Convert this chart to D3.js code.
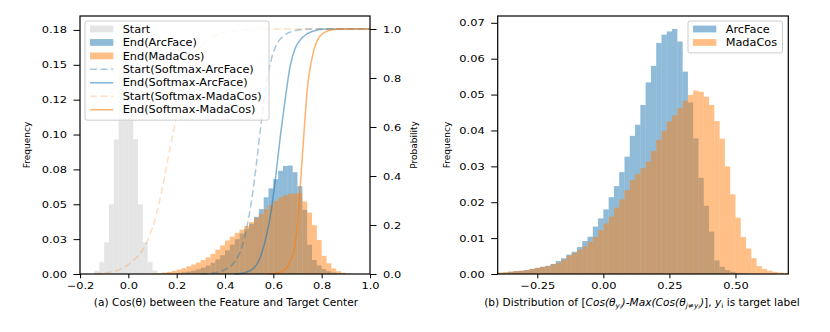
<!DOCTYPE html>
<html>
<head>
<meta charset="utf-8">
<script src="https://cdn.jsdelivr.net/npm/d3@7"></script>
<style>
  body { margin: 0; background: #fff; }
  svg text { font-family: "DejaVu Sans", sans-serif; fill: #000; }
</style>
</head>
<body>
<svg id="chart" width="830" height="332"></svg>
<script>
// ---- data, panel (a) ----
var binW = 0.02;
var startFirstEdge = -0.14;
var startFreq = [0.0024, 0.0085, 0.0227, 0.050, 0.0966, 0.143, 0.176, 0.143, 0.0966, 0.050, 0.0227, 0.0085, 0.0024];
var endFirstEdge = 0.10;
var endArcFreq = [0, 0.0001, 0.0002, 0.0003, 0.0005, 0.0008, 0.0012, 0.0017, 0.0024, 0.0033,
    0.0045, 0.0060, 0.0080, 0.0105, 0.0135, 0.0170, 0.0210, 0.0250, 0.0290, 0.0325,
    0.0360, 0.0410, 0.0465, 0.0550, 0.0614, 0.0680, 0.0740, 0.0775, 0.0778, 0.0730,
    0.0630, 0.0460, 0.0210, 0.0100, 0.0062, 0.0035, 0.0020, 0.0010, 0.0005, 0.0002,
    0.0001];
var endMadaFreq = [0.0003, 0.0006, 0.0010, 0.0015, 0.0022, 0.0032, 0.0042, 0.0055, 0.0068, 0.0082,
    0.0100, 0.0120, 0.0145, 0.0175, 0.0205, 0.0240, 0.0268, 0.0295, 0.0318, 0.0345,
    0.0372, 0.0400, 0.0430, 0.0465, 0.0495, 0.0525, 0.0548, 0.0565, 0.0575, 0.0578,
    0.0580, 0.0520, 0.0440, 0.0350, 0.0244, 0.0130, 0.0077, 0.0040, 0.0020, 0.0009,
    0.0003];

// softmax probability curves [cos, prob]
var startArcCurve = [[0.30, 0], [0.36, 0.005], [0.40, 0.018], [0.44, 0.05], [0.47, 0.11], [0.49, 0.19],
    [0.51, 0.30], [0.53, 0.45], [0.55, 0.62], [0.57, 0.77], [0.59, 0.87], [0.61, 0.93], [0.64, 0.97],
    [0.68, 0.99], [0.75, 1.0], [1.0, 1.0]];
var endArcCurve = [[0.44, 0], [0.48, 0.005], [0.52, 0.025], [0.55, 0.08], [0.57, 0.15], [0.59, 0.25],
    [0.61, 0.40], [0.63, 0.57], [0.65, 0.72], [0.67, 0.85], [0.69, 0.92], [0.72, 0.965], [0.76, 0.99],
    [0.82, 1.0], [1.0, 1.0]];
var startMadaCurve = [[-0.14, 0], [-0.10, 0.004], [-0.06, 0.01], [-0.02, 0.025], [0.02, 0.055], [0.06, 0.10],
    [0.10, 0.19], [0.13, 0.30], [0.17, 0.50], [0.215, 0.71], [0.25, 0.83], [0.28, 0.90], [0.32, 0.95],
    [0.36, 0.975], [0.42, 0.99], [0.50, 0.997], [0.60, 1.0], [1.0, 1.0]];
var endMadaCurve = [[0.58, 0], [0.62, 0.004], [0.65, 0.02], [0.67, 0.05], [0.69, 0.12], [0.70, 0.20],
    [0.71, 0.34], [0.72, 0.48], [0.73, 0.62], [0.74, 0.75], [0.76, 0.88], [0.78, 0.95], [0.81, 0.985],
    [0.85, 0.998], [0.90, 1.0], [1.0, 1.0]];

var xTicksA = [-0.2, 0, 0.2, 0.4, 0.6, 0.8, 1.0];
var xTickLabelsA = ["\u22120.2", "0.0", "0.2", "0.4", "0.6", "0.8", "1.0"];
var yTicksA = [0, 0.025, 0.05, 0.075, 0.1, 0.125, 0.15, 0.175];
var yTickLabelsA = ["0.00", "0.03", "0.05", "0.08", "0.10", "0.12", "0.15", "0.18"];
var pTicks = [0, 0.2, 0.4, 0.6, 0.8, 1.0];
var pTickLabels = ["0.0", "0.2", "0.4", "0.6", "0.8", "1.0"];

// ---- data, panel (b) ----
var diffFirstEdge = -0.40;
var diffArcFreq = [0.0003, 0.0004, 0.0006, 0.0008, 0.0009, 0.0011, 0.0014, 0.0017, 0.0020, 0.0023,
    0.0028, 0.0036, 0.0044, 0.0054, 0.0062, 0.0075, 0.0092, 0.0104, 0.0132, 0.0155,
    0.0180, 0.0214, 0.0245, 0.0284, 0.0327, 0.0385, 0.0416, 0.0471, 0.0534, 0.0580,
    0.0644, 0.0667, 0.0676, 0.0683, 0.0648, 0.0564, 0.0478, 0.0378, 0.0268, 0.0190,
    0.0118, 0.0038, 0.0020, 0.0011, 0.0006, 0.0003, 0.0002, 0.0001, 0.0001, 0,
    0, 0, 0, 0, 0];
var diffMadaFreq = [0.0004, 0.0005, 0.0007, 0.0008, 0.0009, 0.0011, 0.0014, 0.0017, 0.0020, 0.0022,
    0.0027, 0.0031, 0.0040, 0.0051, 0.0058, 0.0067, 0.0077, 0.0090, 0.0103, 0.0122,
    0.0141, 0.0160, 0.0185, 0.0208, 0.0234, 0.0262, 0.0279, 0.0295, 0.0313, 0.0343,
    0.0374, 0.0399, 0.0425, 0.0442, 0.0462, 0.0483, 0.0499, 0.0511, 0.0508, 0.0494,
    0.0471, 0.0426, 0.0377, 0.0300, 0.0222, 0.0157, 0.0103, 0.0071, 0.0044, 0.0022,
    0.0014, 0.0009, 0.0006, 0.0004, 0.0003];
var xTicksB = [-0.25, 0, 0.25, 0.5];
var xTickLabelsB = ["\u22120.25", "0.00", "0.25", "0.50"];
var yTicksB = [0, 0.01, 0.02, 0.03, 0.04, 0.05, 0.06, 0.07];
var yTickLabelsB = ["0.00", "0.01", "0.02", "0.03", "0.04", "0.05", "0.06", "0.07"];

var blue = "#1f77b4", orange = "#ff7f0e";

var svg = d3.select("#chart");
svg.append("rect").attr("width", 830).attr("height", 332).attr("fill", "#fff");

// stretch text horizontally a bit, the reference picture is wider than tall
function widen(sel, k) {
    sel.each(function() {
        var len = this.getComputedTextLength();
        d3.select(this).attr("textLength", len * k).attr("lengthAdjust", "spacingAndGlyphs");
    });
}

var xA = d3.scaleLinear().domain([-0.2, 1.0]).range([80, 370]);
var yA = d3.scaleLinear().domain([0, 0.185]).range([274, 16]);
var yP = d3.scaleLinear().domain([0, 1.053]).range([274, 16]);
var xB = d3.scaleLinear().domain([-0.40, 0.70]).range([497.7, 788.3]);
var yB = d3.scaleLinear().domain([0, 0.0719]).range([274, 16]);

function hist(x, y, firstEdge, freq, color, opacity) {
    svg.append("g").selectAll("rect").data(freq).join("rect")
        .attr("x", function(d, i) { return x(firstEdge + i * binW); })
        .attr("width", function(d, i) { return x(firstEdge + (i + 1) * binW) - x(firstEdge + i * binW); })
        .attr("y", function(d) { return y(d); })
        .attr("height", function(d) { return y(0) - y(d); })
        .attr("fill", color)
        .attr("fill-opacity", opacity);
}

// panel (a) histograms
hist(xA, yA, startFirstEdge, startFreq, "#d3d3d3", 0.6);
hist(xA, yA, endFirstEdge, endArcFreq, blue, 0.5);
hist(xA, yA, endFirstEdge, endMadaFreq, orange, 0.5);

// panel (a) probability curves
var probLine = d3.line()
    .x(function(d) { return xA(d[0]); })
    .y(function(d) { return yP(d[1]); })
    .curve(d3.curveMonotoneX);

var curves = [
    {data: startArcCurve, color: blue, op: 0.4, dash: "7,3.5"},
    {data: endArcCurve, color: blue, op: 0.55, dash: null},
    {data: startMadaCurve, color: orange, op: 0.25, dash: "7,3.5"},
    {data: endMadaCurve, color: orange, op: 0.6, dash: null}
];
curves.forEach(function(c) {
    svg.append("path")
        .attr("d", probLine(c.data))
        .attr("fill", "none")
        .attr("stroke", c.color)
        .attr("stroke-opacity", c.op)
        .attr("stroke-width", 1.5)
        .attr("stroke-dasharray", c.dash);
});

// panel (b) histograms
hist(xB, yB, diffFirstEdge, diffArcFreq, blue, 0.5);
hist(xB, yB, diffFirstEdge, diffMadaFreq, orange, 0.5);

// axes
function drawAxis(axis, tx, ty, vals, labels, isX) {
    var g = svg.append("g").attr("transform", "translate(" + tx + "," + ty + ")")
        .call(axis.tickValues(vals).tickFormat(function(d, i) { return labels[i]; }));
    g.select(".domain").remove();
    g.selectAll(".tick line").attr("stroke", "#000").attr("stroke-width", 1);
    g.selectAll(".tick text").attr("font-size", 9.5).attr("font-family", "DejaVu Sans").attr("fill", "#000");
    widen(g.selectAll(".tick text"), 1.2);
    return g;
}
drawAxis(d3.axisBottom(xA).tickSize(4.3).tickPadding(4), 0, 274, xTicksA, xTickLabelsA, true);
drawAxis(d3.axisLeft(yA).tickSize(6.5).tickPadding(6.5), 80, 0, yTicksA, yTickLabelsA, false);
drawAxis(d3.axisRight(yP).tickSize(6.5).tickPadding(6.5), 370, 0, pTicks, pTickLabels, false);
drawAxis(d3.axisBottom(xB).tickSize(4.3).tickPadding(4), 0, 274, xTicksB, xTickLabelsB, true);
drawAxis(d3.axisLeft(yB).tickSize(6.5).tickPadding(6.5), 497.7, 0, yTicksB, yTickLabelsB, false);

// frames
svg.append("rect").attr("x", 80).attr("y", 16).attr("width", 290).attr("height", 258)
    .attr("fill", "none").attr("stroke", "#000").attr("stroke-width", 1.2);
svg.append("rect").attr("x", 497.7).attr("y", 16).attr("width", 290.6).attr("height", 258)
    .attr("fill", "none").attr("stroke", "#000").attr("stroke-width", 1.2);

// axis titles
function vLabel(x, y, txt) {
    svg.append("text").attr("transform", "translate(" + x + "," + y + ") rotate(-90)")
        .attr("text-anchor", "middle").attr("font-size", 9).text(txt);
}
vLabel(30, 145, "Frequency");
vLabel(417, 145, "Probability");
vLabel(450, 145, "Frequency");

var xlabA = svg.append("text").attr("x", 226).attr("y", 306).attr("text-anchor", "middle")
    .attr("font-size", 10).text("(a) Cos(\u03b8) between the Feature and Target Center");
widen(xlabA, 1.06);

var xlabB = svg.append("text").attr("x", 642).attr("y", 306).attr("text-anchor", "middle")
    .attr("font-size", 10);
xlabB.append("tspan").text("(b) Distribution of [");
xlabB.append("tspan").attr("font-style", "italic").text("Cos(\u03b8");
xlabB.append("tspan").attr("font-style", "italic").attr("font-size", 7).attr("dy", 2).text("y");
xlabB.append("tspan").attr("font-style", "italic").attr("font-size", 5.5).attr("dy", 1.2).text("i");
xlabB.append("tspan").attr("font-style", "italic").attr("dy", -3.2).text(")-Max(Cos(\u03b8");
xlabB.append("tspan").attr("font-style", "italic").attr("font-size", 7).attr("dy", 2).text("j\u2260y");
xlabB.append("tspan").attr("font-style", "italic").attr("font-size", 5.5).attr("dy", 1.2).text("i");
xlabB.append("tspan").attr("font-style", "italic").attr("dy", -3.2).text(")");
xlabB.append("tspan").text("], ");
xlabB.append("tspan").attr("font-style", "italic").text("y");
xlabB.append("tspan").attr("font-size", 7).attr("dy", 2).text("i");
xlabB.append("tspan").attr("dy", -2).text(" is target label");
widen(xlabB, 1.06);

// legends
function legend(x, y, w, items) {
    var rowH = 13.45;
    var g = svg.append("g").attr("transform", "translate(" + x + "," + y + ")");
    g.append("rect").attr("width", w).attr("height", items.length * rowH + 5)
        .attr("rx", 2).attr("fill", "#fff").attr("fill-opacity", 0.8)
        .attr("stroke", "#cccccc").attr("stroke-width", 1);
    items.forEach(function(it, i) {
        var cy = 8 + i * rowH;
        if (it.type === "patch") {
            g.append("rect").attr("x", 5).attr("y", cy - 3.4).attr("width", 23.3).attr("height", 6.8)
                .attr("fill", it.color).attr("fill-opacity", it.op);
        } else {
            g.append("line").attr("x1", 5).attr("x2", 28.3).attr("y1", cy).attr("y2", cy)
                .attr("stroke", it.color).attr("stroke-opacity", it.op).attr("stroke-width", 1.5)
                .attr("stroke-dasharray", it.dash);
        }
        var t = g.append("text").attr("x", 37.7).attr("y", cy + 3.6).attr("font-size", 10).text(it.label);
        widen(t, 1.13);
    });
}
legend(85, 21, 184, [
    {type: "patch", color: "#d3d3d3", op: 0.6, label: "Start"},
    {type: "patch", color: blue, op: 0.5, label: "End(ArcFace)"},
    {type: "patch", color: orange, op: 0.5, label: "End(MadaCos)"},
    {type: "line", color: blue, op: 0.4, dash: "7,3.5", label: "Start(Softmax-ArcFace)"},
    {type: "line", color: blue, op: 0.55, dash: null, label: "End(Softmax-ArcFace)"},
    {type: "line", color: orange, op: 0.25, dash: "7,3.5", label: "Start(Softmax-MadaCos)"},
    {type: "line", color: orange, op: 0.6, dash: null, label: "End(Softmax-MadaCos)"}
]);
legend(688, 21, 94.5, [
    {type: "patch", color: blue, op: 0.5, label: "ArcFace"},
    {type: "patch", color: orange, op: 0.5, label: "MadaCos"}
]);
</script>
</body>
</html>
